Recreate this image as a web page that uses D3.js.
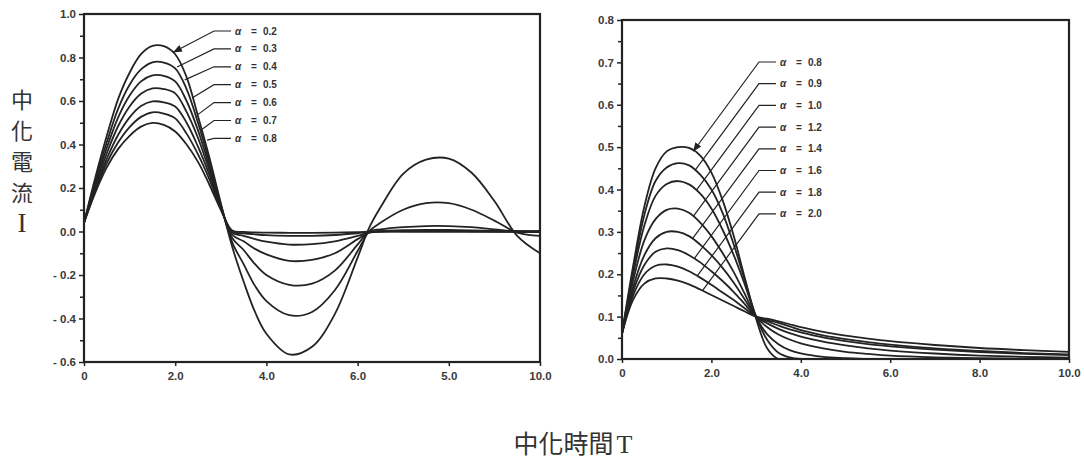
<!DOCTYPE html>
<html>
<head>
<meta charset="utf-8">
<script src="https://cdn.jsdelivr.net/npm/d3@7/dist/d3.min.js"></script>
<style>
  html, body { margin: 0; padding: 0; background: #ffffff; }
  svg { display: block; }
  .tick text { font-family: "Liberation Sans", Arial, sans-serif; font-weight: bold; font-size: 11.5px; fill: #3a3a3a; }
</style>
</head>
<body>
<div id="chart"></div>
<script>
// ---------------- DATA ----------------
// Left panel: alpha 0.2 .. 0.8
const leftT = [0,0.25,0.5,0.75,1,1.25,1.5,1.75,2,2.25,2.5,2.75,3,3.25,3.5,3.75,4,4.5,5,5.5,6,6.25,6.5,7,7.5,8,8.5,9,9.5,10];
const leftAlphas = ["0.2","0.3","0.4","0.5","0.6","0.7","0.8"];
const leftA02 = [0.04,0.25,0.44,0.61,0.73,0.815,0.853,0.852,0.815,0.71,0.53,0.34,0.13,-0.07,-0.23,-0.37,-0.47,-0.565,-0.53,-0.38,-0.12,0.015,0.11,0.265,0.33,0.335,0.27,0.14,-0.02,-0.10];
const leftA03 = [0.04,0.235,0.41,0.565,0.675,0.745,0.778,0.777,0.75,0.655,0.50,0.32,0.125,-0.05,-0.15,-0.25,-0.32,-0.385,-0.37,-0.27,-0.09,0.0,0.04,0.10,0.13,0.13,0.10,0.05,-0.005,-0.02];
const leftA04 = [0.04,0.22,0.385,0.525,0.625,0.69,0.718,0.716,0.69,0.60,0.465,0.30,0.12,-0.03,-0.085,-0.15,-0.20,-0.245,-0.24,-0.18,-0.06,0.0,0.01,0.02,0.025,0.025,0.02,0.01,0.0,-0.003];
const leftA05 = [0.04,0.21,0.36,0.485,0.575,0.633,0.658,0.655,0.635,0.55,0.43,0.28,0.115,-0.015,-0.045,-0.08,-0.105,-0.135,-0.13,-0.10,-0.035,-0.005,0.003,0.006,0.007,0.007,0.005,0.002,0.0,0.0];
const leftA06 = [0.04,0.2,0.335,0.445,0.525,0.577,0.598,0.594,0.575,0.50,0.39,0.26,0.11,-0.005,-0.02,-0.035,-0.047,-0.06,-0.058,-0.045,-0.02,-0.005,0,0.002,0.002,0.002,0.001,0,0,0];
const leftA07 = [0.04,0.19,0.315,0.41,0.48,0.527,0.548,0.542,0.52,0.45,0.355,0.24,0.105,0.0,-0.008,-0.013,-0.017,-0.02,-0.02,-0.016,-0.008,-0.003,0,0,0,0,0,0,0,0];
const leftA08 = [0.04,0.18,0.295,0.38,0.44,0.482,0.499,0.49,0.46,0.40,0.32,0.215,0.10,0.005,-0.002,-0.004,-0.005,-0.006,-0.006,-0.005,-0.003,-0.001,0,0,0,0,0,0,0,0];
// leader end points (data units) for left legend
const leftLeadT = [1.97,2.04,2.21,2.37,2.48,2.59,2.70];
const leftLeadI = [0.825,0.756,0.697,0.614,0.535,0.47,0.42];

const leftYTicks = [-0.6,-0.4,-0.2,0.0,0.2,0.4,0.6,0.8,1.0];
const leftYLabels = ["- 0.6","- 0.4","- 0.2","0.0","0.2","0.4","0.6","0.8","1.0"];
const leftYMinor = [-0.5,-0.3,-0.1,0.1,0.3,0.5,0.7,0.9];
const leftXTicks = [0,2,4,6,8,10];
const leftXLabels = ["0","2.0","4.0","6.0","5.0","10.0"];

// Right panel: alpha 0.8 .. 2.0
const rightT = [0,0.25,0.5,0.75,1,1.25,1.5,1.75,2,2.25,2.5,2.75,3,3.25,3.5,3.75,4,4.5,5,5.5,6,7,8,9,10];
const rightAlphas = ["0.8","0.9","1.0","1.2","1.4","1.6","1.8","2.0"];
const rightA08 = [0.06,0.22,0.36,0.45,0.49,0.50,0.498,0.48,0.44,0.375,0.29,0.19,0.095,0.025,0,0,0,0,0,0,0,0,0,0,0];
const rightA09 = [0.06,0.21,0.34,0.42,0.452,0.462,0.457,0.435,0.40,0.345,0.27,0.185,0.10,0.045,0.015,0.004,0,0,0,0,0,0,0,0,0];
const rightA10 = [0.06,0.2,0.315,0.385,0.413,0.42,0.412,0.39,0.355,0.305,0.245,0.175,0.10,0.058,0.035,0.021,0.013,0.005,0.002,0,0,0,0,0,0];
const rightA12 = [0.06,0.185,0.28,0.33,0.352,0.355,0.345,0.322,0.29,0.25,0.205,0.153,0.10,0.075,0.058,0.046,0.037,0.025,0.017,0.012,0.008,0.004,0.002,0.001,0.0005];
const rightA14 = [0.06,0.17,0.245,0.285,0.30,0.30,0.29,0.27,0.245,0.215,0.18,0.14,0.10,0.084,0.071,0.061,0.053,0.041,0.032,0.025,0.02,0.013,0.008,0.005,0.003];
const rightA16 = [0.06,0.16,0.222,0.253,0.261,0.257,0.245,0.228,0.207,0.184,0.158,0.129,0.10,0.089,0.079,0.07,0.063,0.051,0.042,0.035,0.03,0.022,0.016,0.012,0.009];
const rightA18 = [0.06,0.15,0.20,0.22,0.223,0.218,0.207,0.192,0.175,0.157,0.139,0.119,0.10,0.092,0.085,0.077,0.068,0.056,0.047,0.04,0.034,0.025,0.019,0.014,0.011];
const rightA20 = [0.06,0.14,0.178,0.19,0.19,0.185,0.176,0.164,0.151,0.138,0.125,0.112,0.10,0.095,0.089,0.082,0.075,0.064,0.055,0.048,0.042,0.033,0.026,0.021,0.017];

const rightYTicks = [0.0,0.1,0.2,0.3,0.4,0.5,0.6,0.7,0.8];
const rightYLabels = ["0.0","0.1","0.2","0.3","0.4","0.5","0.6","0.7","0.8"];
const rightYMinor = [0.05,0.15,0.25,0.35,0.45,0.55,0.65,0.75];
const rightXTicks = [0,2,4,6,8,10];
const rightXLabels = ["0","2.0","4.0","6.0","8.0","10.0"];

const yTitleChars = ["中","化","電","流","I"];
const xTitle = "中化時間";
const xTitleVar = "T";

// ---------------- DRAW ----------------
const W = 1084, H = 463;
const ink = "#232323";
const svg = d3.select("#chart").append("svg").attr("width", W).attr("height", H);
svg.append("rect").attr("width", W).attr("height", H).attr("fill", "#ffffff");

const defs = svg.append("defs");
defs.append("marker").attr("id", "arrow").attr("viewBox", "0 0 10 10")
  .attr("refX", 9).attr("refY", 5).attr("markerWidth", 9).attr("markerHeight", 9)
  .attr("markerUnits", "userSpaceOnUse").attr("orient", "auto")
  .append("path").attr("d", "M0,1 L10,5 L0,9 z").attr("fill", ink);

function interp(ts, vs, t) {
  if (t <= ts[0]) return vs[0];
  for (let i = 1; i < ts.length; i++) {
    if (t <= ts[i]) {
      const f = (t - ts[i-1]) / (ts[i] - ts[i-1]);
      return vs[i-1] + f * (vs[i] - vs[i-1]);
    }
  }
  return vs[vs.length - 1];
}

function panel(cfg) {
  const g = svg.append("g");
  const x = d3.scaleLinear().domain([0, 10]).range([cfg.x0, cfg.x1]);
  const y = d3.scaleLinear().domain(cfg.yDomain).range([cfg.y1, cfg.y0]);

  const clipId = "clip" + cfg.id;
  defs.append("clipPath").attr("id", clipId).append("rect")
    .attr("x", cfg.x0).attr("y", cfg.y0).attr("width", cfg.x1 - cfg.x0).attr("height", cfg.y1 - cfg.y0);

  // curves
  const line = d3.line().x(d => x(d[0])).y(d => y(d[1])).curve(d3.curveCatmullRom.alpha(0.5));
  const cg = g.append("g").attr("clip-path", `url(#${clipId})`);
  cfg.series.forEach(vals => {
    cg.append("path").datum(cfg.T.map((t, i) => [t, vals[i]]))
      .attr("d", line).attr("fill", "none").attr("stroke", ink)
      .attr("stroke-width", 1.8).attr("stroke-linejoin", "round");
  });

  // frame
  g.append("rect").attr("x", cfg.x0).attr("y", cfg.y0)
    .attr("width", cfg.x1 - cfg.x0).attr("height", cfg.y1 - cfg.y0)
    .attr("fill", "none").attr("stroke", ink).attr("stroke-width", 2.2);

  // axes
  const ya = g.append("g").attr("transform", `translate(${cfg.x0},0)`)
    .call(d3.axisLeft(y).tickValues(cfg.yTicks).tickSize(5).tickPadding(3)
      .tickFormat((d, i) => cfg.yLabels[i]));
  const ym = g.append("g").attr("transform", `translate(${cfg.x0},0)`)
    .call(d3.axisLeft(y).tickValues(cfg.yMinor).tickSize(4).tickFormat(""));
  const xa = g.append("g").attr("transform", `translate(0,${cfg.y1})`)
    .call(d3.axisBottom(x).tickValues(cfg.xTicks).tickSize(4).tickPadding(6)
      .tickFormat((d, i) => cfg.xLabels[i]));
  [ya, ym, xa].forEach(a => {
    a.select(".domain").remove();
    a.selectAll(".tick line").attr("stroke", ink).attr("stroke-width", 1.5);
  });

  // legend labels
  const lg = g.append("g").attr("font-family", "Liberation Sans, Arial, sans-serif")
    .attr("font-weight", "bold").attr("font-size", 10).attr("fill", "#333");
  cfg.alphas.forEach((a, i) => {
    const ry = cfg.legY0 + i * cfg.legDy;
    lg.append("text").attr("x", cfg.legX).attr("y", ry + 3.5).attr("font-style", "italic").text("α");
    lg.append("text").attr("x", cfg.legX + 16).attr("y", ry + 3.5).text("=");
    lg.append("text").attr("x", cfg.legX + 28).attr("y", ry + 3.5).text(a);

    // leader
    let ex, ey;
    if (cfg.leadT) {
      ex = x(cfg.leadT[i]); ey = y(cfg.leadI[i]);
    } else {
      const vals = cfg.series[i];
      const sx = cfg.bendX, sy = ry;
      ex = sx; ey = sy;
      for (let px = sx; px > cfg.x0; px -= 0.25) {
        const ly = sy + (sx - px) * cfg.slope;
        const cy = y(interp(cfg.T, vals, x.invert(px)));
        if (ly >= cy) { ex = px; ey = cy; break; }
      }
    }
    const p = g.append("path")
      .attr("d", `M${cfg.legX - 4},${ry} L${cfg.bendX},${ry} L${ex},${ey}`)
      .attr("fill", "none").attr("stroke", ink).attr("stroke-width", 1.2);
    if (i === 0) p.attr("marker-end", "url(#arrow)");
  });
}

panel({
  id: "L", x0: 84, x1: 540, y0: 14, y1: 362, yDomain: [-0.6, 1.0],
  T: leftT, series: [leftA02, leftA03, leftA04, leftA05, leftA06, leftA07, leftA08],
  yTicks: leftYTicks, yLabels: leftYLabels, yMinor: leftYMinor,
  xTicks: leftXTicks, xLabels: leftXLabels,
  alphas: leftAlphas, legX: 235, legY0: 31, legDy: 17.9, bendX: 214,
  leadT: leftLeadT, leadI: leftLeadI
});

panel({
  id: "R", x0: 622, x1: 1069, y0: 20, y1: 359, yDomain: [0, 0.8],
  T: rightT, series: [rightA08, rightA09, rightA10, rightA12, rightA14, rightA16, rightA18, rightA20],
  yTicks: rightYTicks, yLabels: rightYLabels, yMinor: rightYMinor,
  xTicks: rightXTicks, xLabels: rightXLabels,
  alphas: rightAlphas, legX: 780, legY0: 62, legDy: 21.7, bendX: 759, slope: 1.36
});

// y title (vertical characters)
const yt = svg.append("g").attr("fill", "#333");
yTitleChars.forEach((c, i) => {
  const isLatin = /[A-Za-z]/.test(c);
  yt.append("text").attr("x", 22).attr("y", 108 + i * 31)
    .attr("text-anchor", "middle")
    .attr("font-family", isLatin ? "Liberation Serif, DejaVu Serif, serif" : "Noto Sans CJK TC, Noto Sans CJK SC, sans-serif")
    .attr("font-size", isLatin ? 27 : 22)
    .text(c);
});

// x title
const xt = svg.append("text").attr("x", 573).attr("y", 453).attr("text-anchor", "middle")
  .attr("fill", "#333").attr("font-size", 25)
  .attr("font-family", "Noto Sans CJK TC, Noto Sans CJK SC, sans-serif");
xt.append("tspan").text(xTitle);
xt.append("tspan").attr("font-family", "Liberation Serif, DejaVu Serif, serif").attr("font-size", 26).attr("dx", 3).text(xTitleVar);
</script>
</body>
</html>
